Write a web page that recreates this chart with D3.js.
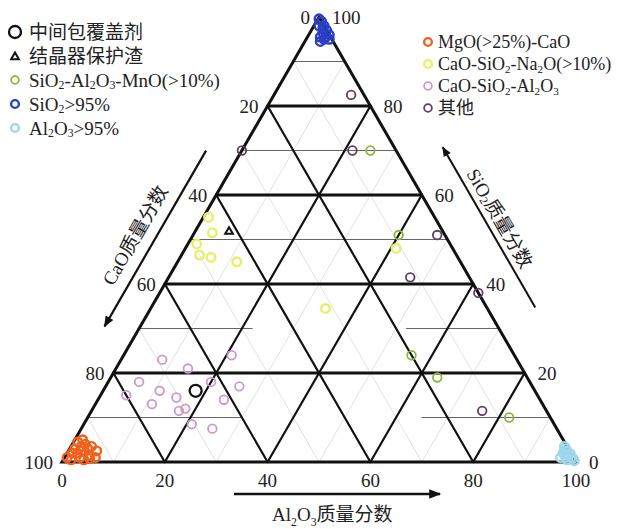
<!DOCTYPE html>
<html lang="zh">
<head>
<meta charset="utf-8">
<title>CaO-SiO2-Al2O3 三元图</title>
<script src="https://cdn.jsdelivr.net/npm/d3@7"></script>
<style>
  body { margin: 0; background: #fff; }
  text { font-family: "Liberation Serif", "Noto Sans CJK SC", serif; fill: #222; }
</style>
</head>
<body>
<div id="chart"></div>
<script>
// compositions in %, each point is [CaO, SiO2, Al2O3]
var tundishFlux = [[66, 16, 18]];
var moldFlux = [[41.5, 52, 6.5]];
var mnoGroup = [[5, 70, 25], [9, 51, 40], [20, 24, 56], [17.5, 19, 63.5], [8, 10, 82]];
var silicaGroup = [[0.2, 99.6, 0.2], [0, 99, 1], [1, 98, 1], [0, 98, 2], [0, 97, 3], [0.5, 97.5, 2],
                   [0, 96, 4], [1, 96.5, 2.5], [1, 95.5, 3.5], [0.5, 95, 4.5], [1.5, 95, 3.5],
                   [2, 95.5, 2.5], [2.5, 94.5, 3]];
var aluminaGroup = [[0.5, 3.5, 96], [0.5, 3, 96.5], [0.5, 2.5, 97], [0.2, 1.8, 98], [0.5, 1, 98.5],
                    [0.2, 0.8, 99], [0.2, 0.3, 99.5], [1.5, 1, 97.5], [1.5, 2, 96.5], [1.5, 0.5, 98],
                    [1, 2.5, 96.5], [2.5, 1, 96.5], [0.8, 1.5, 97.7]];
var magnesiaGroup = [[98.5, 1, 0.5], [96, 3, 1], [94.7, 4.5, 0.8], [96, 2, 2], [93.5, 4, 2.5], [96, 1, 3],
                     [93.5, 3, 3.5], [94, 1.5, 4.5], [94.2, 0.8, 5], [92, 2.5, 5.5], [98, 0.5, 1.5],
                     [93, 1, 6], [93.5, 5, 1.5], [97, 2, 1], [95, 2.5, 2.5], [95.5, 0.5, 4],
                     [94.5, 3.5, 2], [92.5, 3.5, 4]];
var sodaGroup = [[44, 55, 1], [45, 51.5, 3.5], [49.3, 49, 1.7], [50, 46.5, 3.5], [48, 46, 6],
                 [43.5, 45, 11.5], [31.5, 34.5, 34], [11, 48, 41]];
var casGroup = [[69, 23, 8], [65, 21, 14], [76, 18, 6], [80, 15, 5], [73, 16, 11], [70.5, 14.5, 15],
                [76, 13, 11], [71.5, 11.5, 17], [70, 12, 18], [62, 18, 20], [55, 24, 21], [57, 17, 26],
                [61.5, 14, 24.5], [70.5, 8.5, 21], [67, 7.5, 25.5]];
var otherGroup = [[2.5, 82.5, 15], [30, 70, 0], [8.5, 70, 21.5], [1.5, 51, 47.5], [11.5, 41.5, 47],
                  [0, 38, 62], [12.5, 11.5, 76]];

var majorTicks = [0, 20, 40, 60, 80, 100];
var gridSteps = [20, 40, 60, 80];
var minorSteps = [10, 30, 50, 70, 90];
// thin horizontal SiO2 lines, drawn only over these Al2O3 ranges
var thinRows = [
  {si: 90, al: [[0, 10]]},
  {si: 70, al: [[0, 30]]},
  {si: 50, al: [[0, 50]]},
  {si: 30, al: [[0, 22], [52, 70]]},
  {si: 10, al: [[0, 30], [65, 90]]}
];

var series = [
  {name: "中间包覆盖剂", data: tundishFlux, color: "#111", kind: "big", col: 0},
  {name: "结晶器保护渣", data: moldFlux, color: "#111", kind: "tri", col: 0},
  {name: "SiO2-Al2O3-MnO(>10%)", data: mnoGroup, color: "#8fb43c", kind: "dot", col: 0},
  {name: "SiO2>95%", data: silicaGroup, color: "#2b3fc2", kind: "dot", col: 0, heavy: true},
  {name: "Al2O3>95%", data: aluminaGroup, color: "#9fd6ea", kind: "dot", col: 0, heavy: true},
  {name: "MgO(>25%)-CaO", data: magnesiaGroup, color: "#f0611e", kind: "dot", col: 1, heavy: true},
  {name: "CaO-SiO2-Na2O(>10%)", data: sodaGroup, color: "#e8ef6a", kind: "dot", col: 1, heavy: true},
  {name: "CaO-SiO2-Al2O3", data: casGroup, color: "#c99cc8", kind: "dot", col: 1},
  {name: "其他", data: otherGroup, color: "#5c405e", kind: "dot", col: 1}
];

var W = 639, H = 529;
var svg = d3.select("#chart").append("svg")
    .attr("width", W).attr("height", H);

svg.append("defs").append("marker")
    .attr("id", "arrow")
    .attr("viewBox", "0 0 10 10")
    .attr("refX", 9).attr("refY", 5)
    .attr("markerWidth", 7).attr("markerHeight", 5)
    .attr("markerUnits", "strokeWidth")
    .attr("orient", "auto")
  .append("path")
    .attr("d", "M0,1 L10,5 L0,9 Z")
    .attr("fill", "#111");

// ternary -> screen, base is Al2O3 (left 0 -> right 100), height is SiO2
var x = d3.scaleLinear().domain([0, 100]).range([62, 576]);
var y = d3.scaleLinear().domain([0, 100]).range([462, 17]);
function px(si, al) { return x(al + si / 2); }
function py(si) { return y(si); }

function seg(g, si1, al1, si2, al2, color, w) {
  g.append("line")
    .attr("x1", px(si1, al1)).attr("y1", py(si1))
    .attr("x2", px(si2, al2)).attr("y2", py(si2))
    .attr("stroke", color).attr("stroke-width", w)
    .attr("stroke-linecap", "round");
}

var grid = svg.append("g");

// faint 10% diagonals
minorSteps.forEach(function(k) {
  seg(grid, 0, k, 100 - k, k, "#e2e2e2", 1);         // Al2O3 const
  seg(grid, 0, 100 - k, 100 - k, 0, "#e2e2e2", 1);   // CaO const
});
thinRows.forEach(function(r) {
  r.al.forEach(function(a) { seg(grid, r.si, a[0], r.si, a[1], "#666", 1.2); });
});
gridSteps.forEach(function(k) {
  seg(grid, 0, k, 100 - k, k, "#111", 2.2);
  seg(grid, 0, 100 - k, 100 - k, 0, "#111", 2.2);
  seg(grid, k, 0, k, 100 - k, "#111", 2.8);
});
grid.append("path")
    .attr("d", d3.line()([[px(0, 0), py(0)], [px(0, 100), py(0)], [px(100, 0), py(100)]]) + "Z")
    .attr("fill", "none").attr("stroke", "#111").attr("stroke-width", 3)
    .attr("stroke-linejoin", "miter");

// text with chemical subscripts
function chem(sel, str, size) {
  var segs = [], prev = "";
  for (var i = 0; i < str.length; i++) {
    var ch = str[i];
    var sub = /[0-9]/.test(ch) && /[A-Za-z]/.test(prev);
    if (segs.length && segs[segs.length - 1].sub === sub) segs[segs.length - 1].t += ch;
    else segs.push({t: ch, sub: sub});
    prev = ch;
  }
  var shift = 0;
  segs.forEach(function(s) {
    var dy = s.sub ? 5 - shift : -shift;
    shift = s.sub ? 5 : 0;
    sel.append("tspan").attr("dy", dy)
      .attr("font-size", s.sub ? size * 0.62 : size)
      .text(s.t);
  });
}

// tick labels
var ticks = svg.append("g").attr("font-size", 19);
majorTicks.forEach(function(v) {
  // CaO on the left edge
  ticks.append("text")
    .attr("x", px(100 - v, 0) - 9).attr("y", py(100 - v))
    .attr("text-anchor", "end").attr("dominant-baseline", "central")
    .text(v);
  // SiO2 on the right edge
  ticks.append("text")
    .attr("x", px(v, 100 - v) + 13).attr("y", py(v))
    .attr("text-anchor", "start").attr("dominant-baseline", "central")
    .text(v);
  // Al2O3 along the bottom
  ticks.append("text")
    .attr("x", x(v)).attr("y", 487)
    .attr("text-anchor", "middle")
    .text(v);
});

// axis titles and arrows
var titles = svg.append("g");
titles.append("line")
    .attr("x1", 234).attr("y1", 494).attr("x2", 440).attr("y2", 494)
    .attr("stroke", "#111").attr("stroke-width", 2.4)
    .attr("marker-end", "url(#arrow)");
chem(titles.append("text").attr("x", 272).attr("y", 521), "Al2O3质量分数", 19);

var nL = [-0.866, -0.5], nR = [0.866, -0.5];
function leftPt(si, off) { return [px(si, 0) + nL[0] * off, py(si) + nL[1] * off]; }
function rightPt(si, off) { return [px(si, 100 - si) + nR[0] * off, py(si) + nR[1] * off]; }

var la = leftPt(66.5, 31), lb = leftPt(27, 31);
titles.append("line")
    .attr("x1", la[0]).attr("y1", la[1]).attr("x2", lb[0]).attr("y2", lb[1])
    .attr("stroke", "#111").attr("stroke-width", 2.2)
    .attr("marker-end", "url(#arrow)");
var lt = leftPt(45.3, 50);
titles.append("text")
    .attr("transform", "translate(" + lt + ") rotate(-60)")
    .attr("text-anchor", "middle").attr("dominant-baseline", "central")
    .attr("font-size", 19)
    .text("CaO质量分数");

var ra = rightPt(30, 42), rb = rightPt(66, 42);
titles.append("line")
    .attr("x1", ra[0]).attr("y1", ra[1]).attr("x2", rb[0]).attr("y2", rb[1])
    .attr("stroke", "#111").attr("stroke-width", 2)
    .attr("marker-end", "url(#arrow)");
var rt = rightPt(48.5, 56);
var rtext = titles.append("text")
    .attr("transform", "translate(" + rt + ") rotate(60)")
    .attr("text-anchor", "middle").attr("dominant-baseline", "central");
chem(rtext, "SiO2质量分数", 19);

// points
function marker(g, s, cx, cy, scale) {
  if (s.kind === "big") {
    g.append("circle").attr("cx", cx).attr("cy", cy).attr("r", 6 * scale)
      .attr("fill", "none").attr("stroke", s.color).attr("stroke-width", 2.3);
  } else if (s.kind === "tri") {
    g.append("path")
      .attr("d", d3.symbol(d3.symbolTriangle, 26 * scale * scale)())
      .attr("transform", "translate(" + cx + "," + (cy + 1) + ")")
      .attr("fill", "none").attr("stroke", s.color).attr("stroke-width", 2);
  } else {
    g.append("circle").attr("cx", cx).attr("cy", cy).attr("r", 4.3 * scale)
      .attr("fill", "none").attr("stroke", s.color)
      .attr("stroke-width", s.heavy ? 2.4 : 1.8);
  }
}

var pts = svg.append("g");
series.slice().reverse().forEach(function(s) {
  s.data.forEach(function(d) {
    marker(pts, s, px(d[1], d[2]), py(d[1]), 1);
  });
});

// legend
var legend = svg.append("g").attr("font-size", 19);
var colX = [[15, 29], [428, 438]], colY = [32, 42];
var counts = [0, 0];
series.forEach(function(s) {
  var c = s.col, i = counts[c]++;
  var ly = colY[c] + i * (c === 0 ? 24 : 22);
  marker(legend, s, colX[c][0], ly, s.kind === "dot" ? 0.9 : 1);
  var t = legend.append("text").attr("x", colX[c][1]).attr("y", ly)
    .attr("dominant-baseline", "central");
  chem(t, s.name, c === 0 ? 19 : 18);
});
</script>
</body>
</html>
